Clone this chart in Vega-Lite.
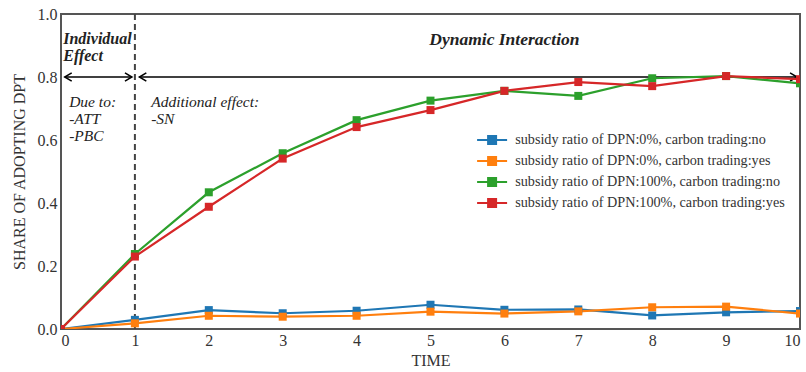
{
  "$schema": "https://vega.github.io/schema/vega-lite/v6.json",
  "width": 739,
  "height": 315,
  "autosize": {"type": "none"},
  "padding": {"left": 61, "top": 14, "right": 6, "bottom": 43},
  "config": {
    "font": "Liberation Serif",
    "view": {"stroke": "#555555", "strokeWidth": 2},
    "axis": {
      "grid": false, "domain": false, "ticks": false,
      "labelFont": "Liberation Serif", "labelFontSize": 16, "labelColor": "#333333",
      "titleFont": "Liberation Serif", "titleFontSize": 16, "titleFontWeight": "normal", "titleColor": "#333333"
    },
    "legend": {
      "labelFont": "Liberation Serif", "labelFontSize": 14.2, "labelColor": "#333333", "labelLimit": 400
    }
  },
  "layer": [
    {
      "data": {"values": [{"t": 1}]},
      "mark": {"type": "rule", "color": "#444444", "strokeWidth": 2, "strokeDash": [6, 4]},
      "encoding": {
        "x": {"field": "t", "type": "quantitative", "scale": {"domain": [0, 10]}, "title": "TIME"}
      }
    },
    {
      "data": {"values": [{"t": 0.05, "t2": 0.96, "share": 0.8}, {"t": 1.06, "t2": 9.96, "share": 0.8}]},
      "mark": {"type": "rule", "color": "black", "strokeWidth": 1.5},
      "encoding": {
        "x": {"field": "t", "type": "quantitative", "title": "TIME"},
        "x2": {"field": "t2"},
        "y": {"field": "share", "type": "quantitative", "title": "SHARE OF ADOPTING DPT"}
      }
    },
    {
      "data": {"values": [{"t": 0.96, "share": 0.8}, {"t": 9.96, "share": 0.8}]},
      "mark": {"type": "point", "shape": "M-1,-0.6L0,0L-1,0.6", "filled": false, "stroke": "black", "strokeWidth": 1.5, "size": 196, "opacity": 1},
      "encoding": {
        "x": {"field": "t", "type": "quantitative", "title": "TIME"},
        "y": {"field": "share", "type": "quantitative", "title": "SHARE OF ADOPTING DPT"}
      }
    },
    {
      "data": {"values": [{"t": 0.05, "share": 0.8}, {"t": 1.06, "share": 0.8}]},
      "mark": {"type": "point", "shape": "M1,-0.6L0,0L1,0.6", "filled": false, "stroke": "black", "strokeWidth": 1.5, "size": 196, "opacity": 1},
      "encoding": {
        "x": {"field": "t", "type": "quantitative", "title": "TIME"},
        "y": {"field": "share", "type": "quantitative", "title": "SHARE OF ADOPTING DPT"}
      }
    },
    {
      "data": {"values": [
        {"scenario": "subsidy ratio of DPN:0%, carbon trading:no", "t": 0, "share": 0},
        {"scenario": "subsidy ratio of DPN:0%, carbon trading:no", "t": 1, "share": 0.029},
        {"scenario": "subsidy ratio of DPN:0%, carbon trading:no", "t": 2, "share": 0.060},
        {"scenario": "subsidy ratio of DPN:0%, carbon trading:no", "t": 3, "share": 0.050},
        {"scenario": "subsidy ratio of DPN:0%, carbon trading:no", "t": 4, "share": 0.058},
        {"scenario": "subsidy ratio of DPN:0%, carbon trading:no", "t": 5, "share": 0.077},
        {"scenario": "subsidy ratio of DPN:0%, carbon trading:no", "t": 6, "share": 0.061},
        {"scenario": "subsidy ratio of DPN:0%, carbon trading:no", "t": 7, "share": 0.062},
        {"scenario": "subsidy ratio of DPN:0%, carbon trading:no", "t": 8, "share": 0.043},
        {"scenario": "subsidy ratio of DPN:0%, carbon trading:no", "t": 9, "share": 0.053},
        {"scenario": "subsidy ratio of DPN:0%, carbon trading:no", "t": 10, "share": 0.057},
        {"scenario": "subsidy ratio of DPN:0%, carbon trading:yes", "t": 0, "share": 0},
        {"scenario": "subsidy ratio of DPN:0%, carbon trading:yes", "t": 1, "share": 0.018},
        {"scenario": "subsidy ratio of DPN:0%, carbon trading:yes", "t": 2, "share": 0.042},
        {"scenario": "subsidy ratio of DPN:0%, carbon trading:yes", "t": 3, "share": 0.039},
        {"scenario": "subsidy ratio of DPN:0%, carbon trading:yes", "t": 4, "share": 0.042},
        {"scenario": "subsidy ratio of DPN:0%, carbon trading:yes", "t": 5, "share": 0.055},
        {"scenario": "subsidy ratio of DPN:0%, carbon trading:yes", "t": 6, "share": 0.049},
        {"scenario": "subsidy ratio of DPN:0%, carbon trading:yes", "t": 7, "share": 0.056},
        {"scenario": "subsidy ratio of DPN:0%, carbon trading:yes", "t": 8, "share": 0.069},
        {"scenario": "subsidy ratio of DPN:0%, carbon trading:yes", "t": 9, "share": 0.071},
        {"scenario": "subsidy ratio of DPN:0%, carbon trading:yes", "t": 10, "share": 0.049},
        {"scenario": "subsidy ratio of DPN:100%, carbon trading:no", "t": 0, "share": 0},
        {"scenario": "subsidy ratio of DPN:100%, carbon trading:no", "t": 1, "share": 0.238},
        {"scenario": "subsidy ratio of DPN:100%, carbon trading:no", "t": 2, "share": 0.434},
        {"scenario": "subsidy ratio of DPN:100%, carbon trading:no", "t": 3, "share": 0.558},
        {"scenario": "subsidy ratio of DPN:100%, carbon trading:no", "t": 4, "share": 0.663},
        {"scenario": "subsidy ratio of DPN:100%, carbon trading:no", "t": 5, "share": 0.725},
        {"scenario": "subsidy ratio of DPN:100%, carbon trading:no", "t": 6, "share": 0.756},
        {"scenario": "subsidy ratio of DPN:100%, carbon trading:no", "t": 7, "share": 0.740},
        {"scenario": "subsidy ratio of DPN:100%, carbon trading:no", "t": 8, "share": 0.796},
        {"scenario": "subsidy ratio of DPN:100%, carbon trading:no", "t": 9, "share": 0.803},
        {"scenario": "subsidy ratio of DPN:100%, carbon trading:no", "t": 10, "share": 0.780},
        {"scenario": "subsidy ratio of DPN:100%, carbon trading:yes", "t": 0, "share": 0},
        {"scenario": "subsidy ratio of DPN:100%, carbon trading:yes", "t": 1, "share": 0.230},
        {"scenario": "subsidy ratio of DPN:100%, carbon trading:yes", "t": 2, "share": 0.388},
        {"scenario": "subsidy ratio of DPN:100%, carbon trading:yes", "t": 3, "share": 0.541},
        {"scenario": "subsidy ratio of DPN:100%, carbon trading:yes", "t": 4, "share": 0.641},
        {"scenario": "subsidy ratio of DPN:100%, carbon trading:yes", "t": 5, "share": 0.695},
        {"scenario": "subsidy ratio of DPN:100%, carbon trading:yes", "t": 6, "share": 0.756},
        {"scenario": "subsidy ratio of DPN:100%, carbon trading:yes", "t": 7, "share": 0.784},
        {"scenario": "subsidy ratio of DPN:100%, carbon trading:yes", "t": 8, "share": 0.771},
        {"scenario": "subsidy ratio of DPN:100%, carbon trading:yes", "t": 9, "share": 0.803},
        {"scenario": "subsidy ratio of DPN:100%, carbon trading:yes", "t": 10, "share": 0.793}
      ]},
      "mark": {"type": "line", "strokeWidth": 2.2, "clip": true, "point": {"shape": "square", "filled": true, "size": 64, "opacity": 1, "clip": true}},
      "encoding": {
        "x": {"field": "t", "type": "quantitative", "title": "TIME", "scale": {"domain": [0, 10], "nice": false},
              "axis": {"values": [0,1,2,3,4,5,6,7,8,9,10], "format": "d", "labelPadding": 3, "titlePadding": 4}},
        "y": {"field": "share", "type": "quantitative", "title": "SHARE OF ADOPTING DPT", "scale": {"domain": [0, 1], "nice": false},
              "axis": {"values": [0, 0.2, 0.4, 0.6, 0.8, 1.0], "format": ".1f", "labelPadding": 4, "titlePadding": 10}},
        "color": {
          "field": "scenario", "type": "nominal",
          "scale": {
            "domain": ["subsidy ratio of DPN:0%, carbon trading:no", "subsidy ratio of DPN:0%, carbon trading:yes", "subsidy ratio of DPN:100%, carbon trading:no", "subsidy ratio of DPN:100%, carbon trading:yes"],
            "range": ["#1f77b4", "#ff7f0e", "#2ca02c", "#d62728"]
          },
          "legend": {
            "title": null, "orient": "none", "legendX": 424, "legendY": 119, "padding": 0,
            "symbolType": "M-3,0H3M-0.8,-0.8H0.8V0.8H-0.8Z", "symbolSize": 100, "symbolStrokeWidth": 2,
            "labelOffset": 16, "rowPadding": 4,
            "encode": {"symbols": {"update": {"fill": {"scale": "color", "field": "value"}, "stroke": {"scale": "color", "field": "value"}, "opacity": {"value": 1}}}}
          }
        }
      }
    },
    {
      "data": {"values": [
        {"t": 0.03, "share": 0.92, "label": "Individual"},
        {"t": 0.03, "share": 0.866, "label": "Effect"}
      ]},
      "mark": {"type": "text", "fontStyle": "italic", "fontWeight": "bold", "fontSize": 16, "baseline": "middle", "align": "left", "color": "#222222"},
      "encoding": {
        "x": {"field": "t", "type": "quantitative", "title": "TIME"},
        "y": {"field": "share", "type": "quantitative", "title": "SHARE OF ADOPTING DPT"},
        "text": {"field": "label"}
      }
    },
    {
      "data": {"values": [
        {"t": 6.0, "share": 0.918, "label": "Dynamic Interaction"}
      ]},
      "mark": {"type": "text", "fontStyle": "italic", "fontWeight": "bold", "fontSize": 17.5, "baseline": "middle", "align": "center", "color": "#222222"},
      "encoding": {
        "x": {"field": "t", "type": "quantitative", "title": "TIME"},
        "y": {"field": "share", "type": "quantitative", "title": "SHARE OF ADOPTING DPT"},
        "text": {"field": "label"}
      }
    },
    {
      "data": {"values": [
        {"t": 0.11, "share": 0.722, "label": "Due to:"},
        {"t": 0.11, "share": 0.667, "label": "-ATT"},
        {"t": 0.11, "share": 0.612, "label": "-PBC"},
        {"t": 1.22, "share": 0.722, "label": "Additional effect:"},
        {"t": 1.22, "share": 0.667, "label": "-SN"}
      ]},
      "mark": {"type": "text", "fontStyle": "italic", "fontSize": 15.5, "baseline": "middle", "align": "left", "color": "#222222"},
      "encoding": {
        "x": {"field": "t", "type": "quantitative", "title": "TIME"},
        "y": {"field": "share", "type": "quantitative", "title": "SHARE OF ADOPTING DPT"},
        "text": {"field": "label"}
      }
    }
  ]
}
